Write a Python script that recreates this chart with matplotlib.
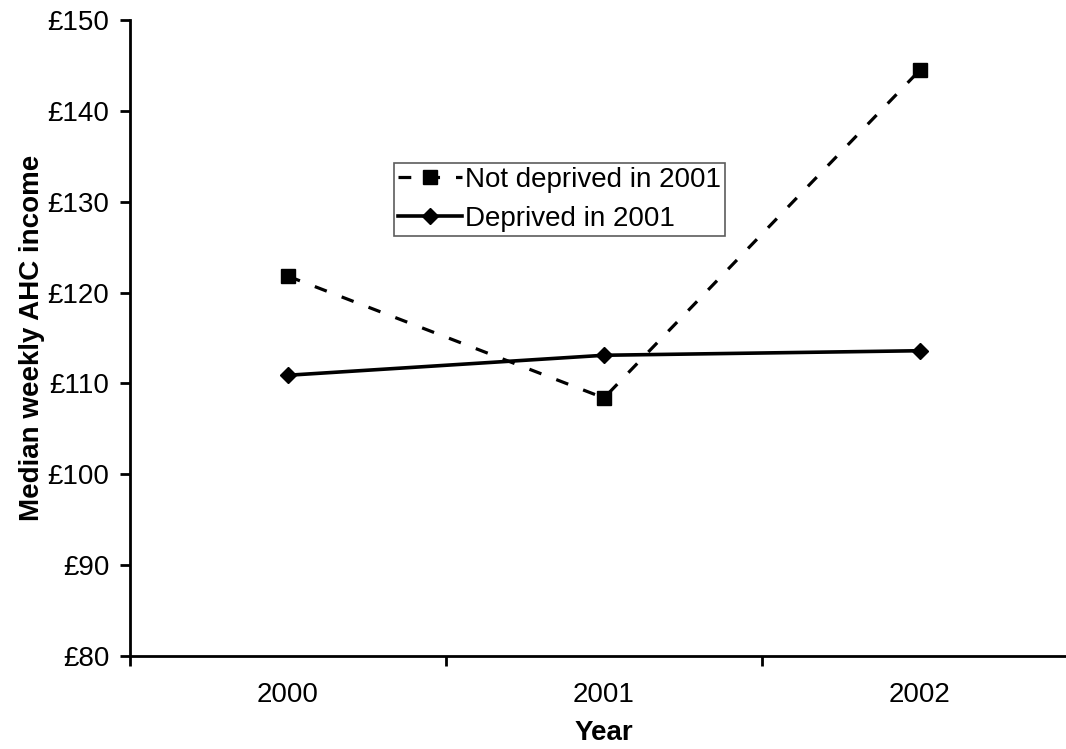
import matplotlib.pyplot as plt
from matplotlib.ticker import FixedLocator, FuncFormatter

plt.rcParams['font.family'] = ['Liberation Sans', 'DejaVu Sans']

# 数据
years = ['2000', '2001', '2002']
not_deprived = [121.8, 108.4, 144.5]
deprived = [110.9, 113.1, 113.6]

fig = plt.figure(figsize=(10.66, 7.49), dpi=100)
ax = fig.add_axes([130 / 1066, 93 / 749, 948 / 1066, 636 / 749])

x = range(len(years))
ax.plot(x, not_deprived, color='black', lw=2.3, ls=(0, (4, 5)),
        marker='s', ms=10, label='Not deprived in 2001')
ax.plot(x, deprived, color='black', lw=2.6,
        marker='D', ms=8, label='Deprived in 2001')

ax.set_xlim(-0.5, 2.5)
ax.set_ylim(80, 150)
ax.set_yticks(range(80, 151, 10))
ax.yaxis.set_major_formatter(FuncFormatter(lambda v, p: '£%d' % v))
ax.set_xticks(list(x))
ax.set_xticklabels(years)
ax.xaxis.set_minor_locator(FixedLocator([-0.5, 0.5, 1.5, 2.5]))
ax.tick_params(axis='x', which='major', length=0, pad=19, labelsize=20)
ax.tick_params(axis='x', which='minor', direction='out', length=7, width=2)
ax.tick_params(axis='y', direction='out', length=7, width=2, labelsize=20, pad=8)

for s in ['top', 'right']:
    ax.spines[s].set_visible(False)
for s in ['left', 'bottom']:
    ax.spines[s].set_linewidth(2)

ax.set_xlabel('Year', fontsize=20, fontweight='bold', labelpad=8)
ax.set_ylabel('Median weekly AHC income', fontsize=20, fontweight='bold', labelpad=2)

leg = ax.legend(loc='upper left', bbox_to_anchor=(394 / 1066, 1 - 163 / 749),
                bbox_transform=fig.transFigure, fontsize=20, frameon=True,
                fancybox=False, handlelength=2.3, handletextpad=0.1,
                borderpad=0.15, labelspacing=0.45, borderaxespad=0)
leg.get_frame().set_edgecolor('#333333')
leg.get_frame().set_linewidth(1.2)

fig.savefig('out.png', dpi=100)
